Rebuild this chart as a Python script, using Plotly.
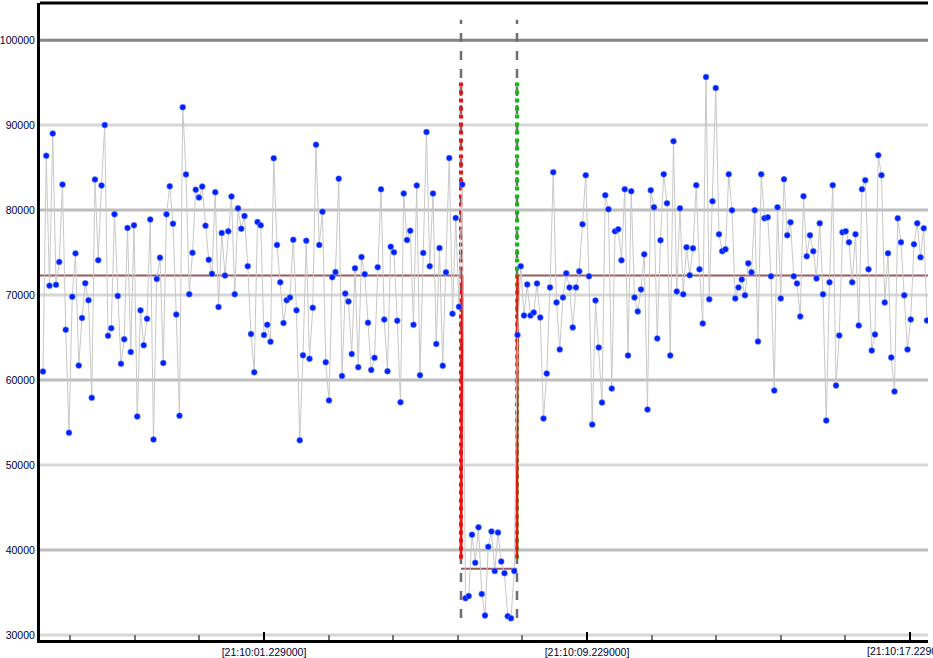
import pandas as pd
import plotly.graph_objects as go

# values, left / dip / right segments
left_values = [
    61000, 86400, 71100, 89000, 71200, 73900, 83000, 65900, 53800, 69800,
    74900, 61700, 67300, 71400, 69400, 57900, 83600, 74100, 82900, 90000,
    65200, 66100, 79500, 69900, 61900, 64800, 77900, 63300, 78200, 55700,
    68200, 64100, 67200, 78900, 53000, 71900, 74400, 62000, 79500, 82800,
    78400, 67700, 55800, 92100, 84200, 70100,
    74970, 82400, 81470, 82760, 78160, 74150, 72500, 82100, 68600, 77300,
    72300, 77500, 81600, 70100, 80200, 77800, 79300, 73400, 65400, 60900,
    78600, 78200, 65300, 66500, 64500, 86100, 75900, 71500, 66700, 69400,
    69700, 76500, 68200, 52900, 62900, 76400, 62500, 68500, 87700, 75900,
    79800, 62100, 57600, 72100, 72700,
    83700, 60480, 70170, 69230, 63060, 73160, 61510, 74470, 72460, 66740,
    61180, 62610, 73280, 82440, 67110, 61020, 75690, 75040, 66980, 57380,
    81950, 76470, 77570, 66490, 82890, 60570, 74960, 89180, 73400, 81950,
    64250, 75530, 61670, 72670, 86120, 67800, 79080, 68620, 83010,
]
dip_values = [
    34320, 34570, 41800, 38480, 42660, 34810, 32280, 40370, 42170, 37510,
    42050, 38630, 37270, 32200, 31950, 37510,
]
right_values = [
    65300,
    73380, 67600, 71250, 67600, 67950, 71370, 67360, 55460, 60760, 70900,
    84460, 69130, 63590, 69720, 72550, 70900, 66190, 70900, 72790, 78330,
    84100, 72200, 54750, 69370, 63830, 57340, 81750, 80100, 58990, 77500,
    77740, 74080, 82450, 62880, 82220, 69720, 68070, 70660, 74790, 56520,
    82340,
    80330, 64890, 76440, 84220, 80800, 62880, 88110, 70430, 80210, 70080,
    75620, 72320, 75500, 82930, 73020, 66660, 95660, 69490, 81040, 94360,
    77150, 75150, 75380, 84220, 79980, 69600, 70900, 71840, 69960, 73730,
    72670, 79980, 64530, 84220, 79040, 79150, 72200, 58760, 80330, 69600,
    83630, 77030,
    78560, 72200, 71370, 67480, 81630, 74560, 77030, 75150, 71960, 78440,
    70080, 55220, 71490, 82930, 59350, 65240, 77390, 77500, 76210, 71490,
    77150, 66420, 82450, 83520, 73020, 63470, 65360, 86460, 84100, 69130,
    74910, 62650, 58640, 79040, 76210, 69960, 63590, 67130, 75970, 78440,
    74440, 77860, 67010,
]
normal_mean = 72300
dip_mean = 37800
first_time = "2024-01-01 21:09:55.755"
last_time = "2024-01-01 21:10:17.650"
range_start = "2024-01-01 21:09:55.681"
range_end = "2024-01-01 21:10:17.675"
tick_start = "2024-01-01 21:10:01.229"
last_tick = "2024-01-01 21:10:17.229"
change_start = "2024-01-01 21:10:06.108"
change_end = "2024-01-01 21:10:07.495"
marker_top, marker_bottom = 95000, 39000
dash_top, dash_bottom = 102400, 32000
grid_dark = [40000, 60000, 80000]
grid_light = [30000, 50000, 70000, 90000]
y_labels = [30000, 40000, 50000, 60000, 70000, 80000, 90000, 100000]
tick_fmt = "[%H:%M:%S.%3f000]"

values = left_values + dip_values + right_values
times = pd.date_range(first_time, last_time, periods=len(values))
nl, nd = len(left_values), len(dip_values)
left_end = times[nl - 1]
right_start = times[nl + nd]

fig = go.Figure()

for ys, col in [(grid_light, "#d6d6d6"), (grid_dark, "#bdbdbd"), ([100000], "#858585")]:
    for v in ys:
        fig.add_hline(y=v, line_color=col, line_width=3, layer="below")

for t in [change_start, change_end]:
    fig.add_trace(go.Scatter(x=[t, t], y=[dash_bottom, dash_top], mode="lines",
                             line=dict(color="#6e6e6e", width=2.5, dash="dash"),
                             hoverinfo="skip"))
fig.add_trace(go.Scatter(x=[change_start, change_start], y=[marker_bottom, marker_top],
                         mode="lines", line=dict(color="#ee1111", width=4, dash="dot")))
fig.add_trace(go.Scatter(x=[change_end, change_end], y=[marker_bottom, marker_top],
                         mode="lines", line=dict(color="#11bb11", width=4, dash="dot")))

# mean levels
brown = "#9a5a5a"
fig.add_trace(go.Scatter(x=[range_start, left_end], y=[normal_mean] * 2, mode="lines",
                         line=dict(color=brown, width=2)))
fig.add_trace(go.Scatter(x=[change_start, change_end], y=[dip_mean] * 2, mode="lines",
                         line=dict(color=brown, width=2)))
fig.add_trace(go.Scatter(x=[right_start, range_end], y=[normal_mean] * 2, mode="lines",
                         line=dict(color=brown, width=2)))
fig.add_trace(go.Scatter(x=[left_end, change_start], y=[normal_mean, marker_bottom],
                         mode="lines", line=dict(color="#ee1111", width=2.5)))
fig.add_trace(go.Scatter(x=[change_end, right_start], y=[marker_bottom, normal_mean],
                         mode="lines", line=dict(color="#ee1111", width=2.5)))

fig.add_trace(go.Scatter(
    x=times, y=values, mode="lines+markers",
    line=dict(color="#c8c8c8", width=1),
    marker=dict(color="#0022ff", size=6, line=dict(color="#8899ff", width=0.5)),
))

# top border
fig.add_shape(type="line", xref="paper", yref="paper", x0=0, x1=1, y0=1, y1=1,
              line=dict(color="black", width=3))
# right-most tick label runs off the page, as in the original
fig.add_annotation(x=last_tick, y=0, xref="x", yref="paper", yshift=-3,
                   yanchor="top", showarrow=False,
                   text=pd.Timestamp(last_tick).strftime("[%H:%M:%S.%f]"),
                   font=dict(family="Liberation Sans", size=10.5, color="#000033"))

fig.update_layout(
    width=933, height=658,
    margin=dict(l=40, r=5, t=3, b=18),
    plot_bgcolor="white", paper_bgcolor="white",
    showlegend=False,
    font=dict(family="Liberation Sans", size=10.5, color="#000033"),
)
fig.update_xaxes(
    type="date", range=[range_start, range_end], automargin=False,
    tick0=tick_start, dtick=8000, tickformat=tick_fmt,
    showgrid=False, showline=True, linecolor="black", linewidth=3,
    ticks="inside", ticklen=8, tickwidth=2, tickcolor="black",
    minor=dict(tick0=tick_start, dtick=1600, ticks="inside", ticklen=5,
               tickcolor="#777", showgrid=False),
    zeroline=False,
)
fig.update_yaxes(
    range=[29400, 104370], tickvals=y_labels, tickformat="d", automargin=False,
    showgrid=False, showline=True, linecolor="black", linewidth=3,
    ticks="", zeroline=False,
)
fig.write_html("out.html", config={"displayModeBar": False},
               post_script="document.body.style.margin='0';")
